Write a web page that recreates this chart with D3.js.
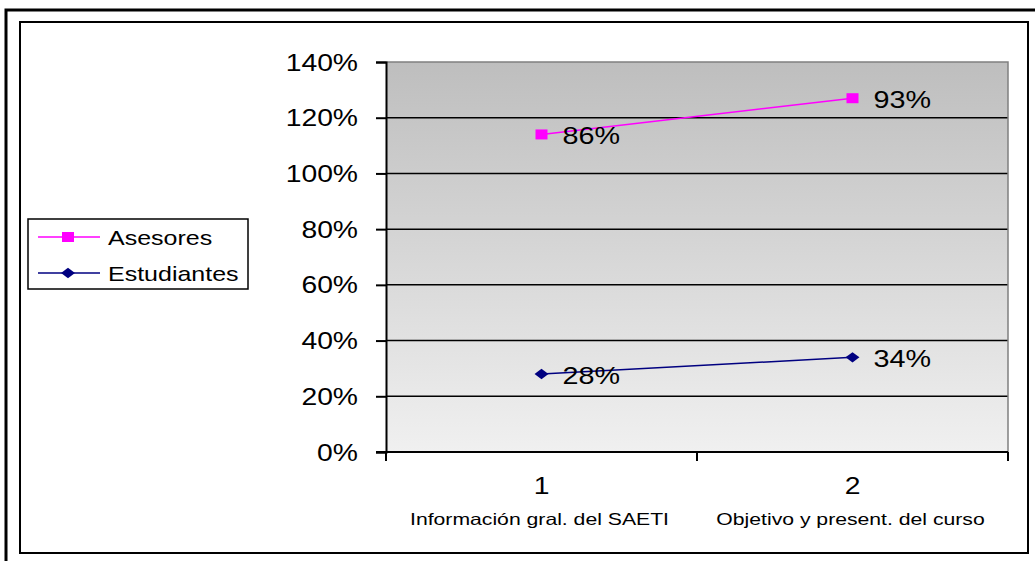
<!DOCTYPE html>
<html>
<head>
<meta charset="utf-8">
<script src="https://cdn.jsdelivr.net/npm/d3@7"></script>
<style>
  html, body { margin: 0; padding: 0; background: #fff; }
  svg { display: block; }
  text { font-family: "Liberation Sans", Arial, sans-serif; fill: #000; }
</style>
</head>
<body>
<svg id="chart" width="1035" height="561"></svg>
<script>
// Categories and series values (percent)
const categories = ["1", "2"];
const categoryNames = ["Información gral. del SAETI", "Objetivo y present. del curso"];
const seriesNames = ["Asesores", "Estudiantes"];
const estudiantes = [28, 34];
const asesores = [86, 93];
const yTicks = [0, 20, 40, 60, 80, 100, 120, 140];

const SX = 1.23; // horizontal text stretch
const svg = d3.select("#chart");

// frames
svg.append("rect").attr("x", 6).attr("y", 10).attr("width", 1200).attr("height", 700)
  .attr("fill", "none").attr("stroke", "#000").attr("stroke-width", 3);
svg.append("rect").attr("x", 20).attr("y", 22).attr("width", 1008).attr("height", 531)
  .attr("fill", "#fff").attr("stroke", "#000").attr("stroke-width", 2);

const plot = { left: 386, top: 62, right: 1008, bottom: 452 };
const x = d3.scaleBand().domain(categories).range([plot.left, plot.right]);
const y = d3.scaleLinear().domain([0, 140]).range([plot.bottom, plot.top]);

// plot background gradient
const defs = svg.append("defs");
const grad = defs.append("linearGradient").attr("id", "bg").attr("x1", 0).attr("y1", 0).attr("x2", 0).attr("y2", 1);
grad.append("stop").attr("offset", "0%").attr("stop-color", "#bebebe");
grad.append("stop").attr("offset", "100%").attr("stop-color", "#f0f0f0");
svg.append("rect").attr("x", plot.left).attr("y", plot.top)
  .attr("width", plot.right - plot.left).attr("height", plot.bottom - plot.top)
  .attr("fill", "url(#bg)");

// gridlines
svg.append("g").selectAll("line").data(yTicks.filter(d => d > 0 && d < 140)).join("line")
  .attr("x1", plot.left).attr("x2", plot.right)
  .attr("y1", d => y(d)).attr("y2", d => y(d))
  .attr("stroke", "#000").attr("stroke-width", 1.5);

// top and right border
svg.append("path")
  .attr("d", `M${plot.left},${plot.top}H${plot.right}V${plot.bottom}`)
  .attr("fill", "none").attr("stroke", "#808080").attr("stroke-width", 1.5);

// y axis
const yAxis = svg.append("g").attr("transform", `translate(${plot.left},0)`)
  .call(d3.axisLeft(y).tickValues(yTicks).tickSize(10).tickFormat(d => d + "%"));
yAxis.select(".domain").attr("stroke", "#000").attr("stroke-width", 2);
yAxis.selectAll(".tick line").attr("stroke", "#000").attr("stroke-width", 2);
yAxis.selectAll(".tick text")
  .attr("x", null).attr("dy", "0.35em")
  .attr("transform", `translate(-28,0) scale(${SX},1)`)
  .style("font-size", "23px").style("font-family", "'Liberation Sans', Arial, sans-serif");

// x axis line and boundary ticks
const bounds = categories.map(c => x(c)).concat([x.range()[1]]);
svg.append("line").attr("x1", plot.left - 10).attr("x2", plot.right)
  .attr("y1", plot.bottom).attr("y2", plot.bottom)
  .attr("stroke", "#000").attr("stroke-width", 2);
svg.append("g").selectAll("line").data(bounds).join("line")
  .attr("x1", d => d).attr("x2", d => d)
  .attr("y1", plot.bottom).attr("y2", plot.bottom + 9)
  .attr("stroke", "#000").attr("stroke-width", 2);

// category labels
const cx = c => x(c) + x.bandwidth() / 2;
svg.append("g").selectAll("text").data(categories).join("text")
  .attr("text-anchor", "middle")
  .attr("transform", d => `translate(${cx(d)},494) scale(${SX},1)`)
  .style("font-size", "23px").text(d => d);
svg.append("g").selectAll("text").data(categories).join("text")
  .attr("text-anchor", "middle")
  .attr("transform", (d, i) => `translate(${cx(d) - 2},525) scale(1.3,1)`)
  .style("font-size", "16.3px").text((d, i) => categoryNames[i]);

// stacked series
const stackedEst = estudiantes.map((v, i) => ({ c: categories[i], v, top: v }));
const stackedAse = asesores.map((v, i) => ({ c: categories[i], v, top: v + estudiantes[i] }));
const line = d3.line().x(d => cx(d.c)).y(d => y(d.top));

const colors = { Asesores: "#ff00ff", Estudiantes: "#000080" };
const squareSym = d3.symbol().type(d3.symbolSquare).size(100);
const diamondSym = d3.symbol().type(d3.symbolDiamond).size(70);
const symScale = { square: "scale(1.2,1)", diamond: "scale(1.55,0.66)" };

function drawSeries(data, color, sym, sc) {
  svg.append("path").datum(data).attr("d", line)
    .attr("fill", "none").attr("stroke", color).attr("stroke-width", 1.5);
  svg.append("g").selectAll("path").data(data).join("path")
    .attr("d", sym)
    .attr("transform", d => `translate(${cx(d.c)},${y(d.top)}) ${sc}`)
    .attr("fill", color);
  svg.append("g").selectAll("text").data(data).join("text")
    .attr("transform", d => `translate(${cx(d.c) + 21},${y(d.top) + 10}) scale(1.25,1)`)
    .style("font-size", "23px").text(d => d.v + "%");
}
drawSeries(stackedAse, colors.Asesores, squareSym, symScale.square);
drawSeries(stackedEst, colors.Estudiantes, diamondSym, symScale.diamond);

// legend
const legend = svg.append("g");
legend.append("rect").attr("x", 28).attr("y", 219).attr("width", 220).attr("height", 70)
  .attr("fill", "#fff").attr("stroke", "#000").attr("stroke-width", 1.5);
const legendItems = [
  { name: seriesNames[0], color: colors.Asesores, sym: squareSym, sc: symScale.square, y: 237 },
  { name: seriesNames[1], color: colors.Estudiantes, sym: diamondSym, sc: symScale.diamond, y: 273 }
];
legendItems.forEach(it => {
  legend.append("line").attr("x1", 38).attr("x2", 100).attr("y1", it.y).attr("y2", it.y)
    .attr("stroke", it.color).attr("stroke-width", 1.5);
  legend.append("path").attr("d", it.sym())
    .attr("transform", `translate(68,${it.y}) ${it.sc}`).attr("fill", it.color);
  legend.append("text")
    .attr("transform", `translate(108,${it.y + 8}) scale(1.19,1)`)
    .style("font-size", "21px").text(it.name);
});
</script>
</body>
</html>
